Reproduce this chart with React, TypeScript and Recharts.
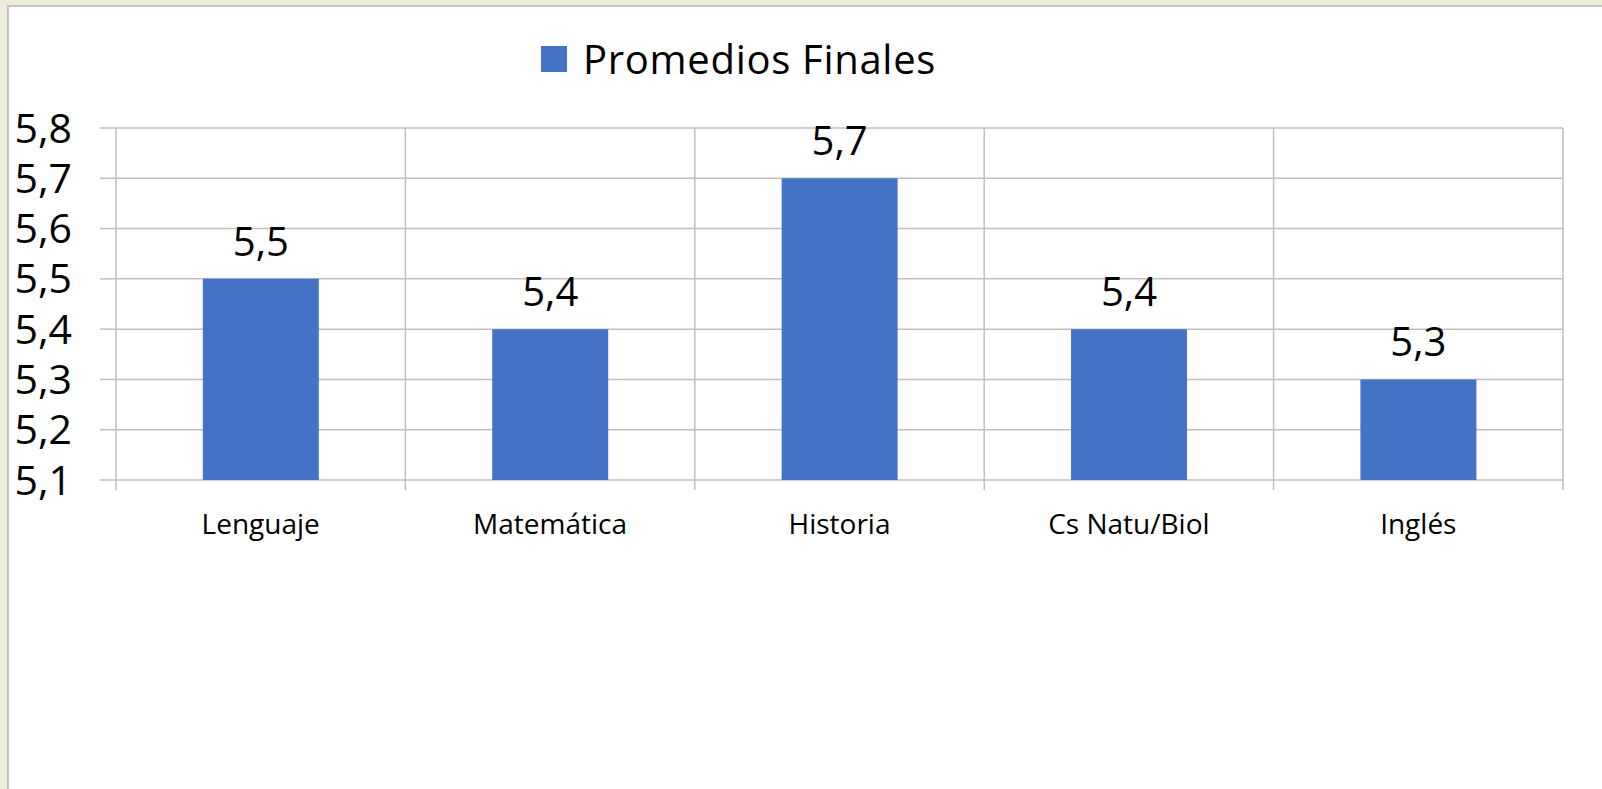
import React from 'react'
import {
  BarChart,
  Bar,
  XAxis,
  YAxis,
  CartesianGrid,
  LabelList,
} from 'recharts'

const categories = ['Lenguaje', 'Matemática', 'Historia', 'Cs Natu/Biol', 'Inglés']
const promedios = [5.5, 5.4, 5.7, 5.4, 5.3]
const yTicks = [5.1, 5.2, 5.3, 5.4, 5.5, 5.6, 5.7, 5.8]
const seriesName = 'Promedios Finales'

const data = categories.map((name, i) => ({ name, value: promedios[i] }))

const FONT = '"Open Sans", sans-serif'
const GRID = '#bfbfbf'
const BAR = '#4472C4'
const X_TICK_SIZE = 10
const X_TICK_MARGIN = 24

const comma = (v: number) => v.toFixed(1).replace('.', ',')

// vertical gridlines sit on the category boundaries, not the centres
const bandBoundaries = ({ offset }: any) =>
  categories
    .map((_, i) => i)
    .concat(categories.length)
    .map(i => offset.left + (i * offset.width) / categories.length)

const CategoryTick = (props: any) => {
  const { x, y, payload, index, width, visibleTicksCount } = props
  const half = payload?.offset > 0 ? payload.offset : width / visibleTicksCount / 2
  const axisY = y - X_TICK_SIZE - X_TICK_MARGIN
  const isLast = index === visibleTicksCount - 1
  return (
    <g>
      <line x1={x - half} x2={x - half} y1={axisY} y2={axisY + X_TICK_SIZE} stroke={GRID} strokeWidth={1.5} />
      {isLast && (
        <line x1={x + half} x2={x + half} y1={axisY} y2={axisY + X_TICK_SIZE} stroke={GRID} strokeWidth={1.5} />
      )}
      <text x={x} y={y} dy="0.71em" textAnchor="middle" fontSize={28} fontFamily={FONT} fill="#000">
        {payload.value}
      </text>
    </g>
  )
}

export default function App() {
  return (
    <div
      style={{
        position: 'absolute',
        left: 0,
        top: 0,
        width: 1602,
        height: 789,
        background: '#eeecdb',
        fontFamily: FONT,
        overflow: 'hidden',
      }}
    >
      <div
        style={{
          position: 'absolute',
          left: 7,
          top: 5,
          right: 0,
          bottom: 0,
          background: '#fff',
          borderLeft: '2px solid #c4c4c4',
          borderTop: '2px solid #c4c4c4',
        }}
      />
      <div
        style={{
          position: 'absolute',
          left: 541,
          top: 39,
          display: 'flex',
          alignItems: 'center',
          height: 40,
        }}
      >
        <div style={{ width: 26, height: 26, background: BAR, marginRight: 16 }} />
        <span style={{ fontSize: 40, lineHeight: 1, color: '#000', letterSpacing: 0.7 }}>
          {seriesName}
        </span>
      </div>
      <div style={{ position: 'absolute', left: 0, top: 0 }}>
        <BarChart
          width={1602}
          height={789}
          data={data}
          margin={{ top: 128, right: 39, bottom: 249, left: 0 }}
          barCategoryGap="30%"
        >
          <CartesianGrid
            stroke={GRID}
            strokeWidth={1.5}
            verticalCoordinatesGenerator={bandBoundaries}
          />
          <XAxis
            dataKey="name"
            height={60}
            axisLine={false}
            tickLine={false}
            tickSize={X_TICK_SIZE}
            tickMargin={X_TICK_MARGIN}
            interval={0}
            tick={<CategoryTick />}
          />
          <YAxis
            domain={[5.1, 5.8]}
            ticks={yTicks}
            interval={0}
            allowDataOverflow
            width={116}
            axisLine={false}
            tickLine={{ stroke: GRID, strokeWidth: 1.5 }}
            tickSize={16}
            tickMargin={28}
            tickFormatter={comma}
            tick={{ fontSize: 41, fill: '#000', fontFamily: FONT }}
          />
          <Bar dataKey="value" name={seriesName} fill={BAR} isAnimationActive={false}>
            <LabelList
              dataKey="value"
              position="top"
              offset={23}
              formatter={(v: any) => comma(Number(v))}
              style={{ fontSize: 40, fill: '#000', fontFamily: FONT }}
            />
          </Bar>
        </BarChart>
      </div>
    </div>
  )
}
